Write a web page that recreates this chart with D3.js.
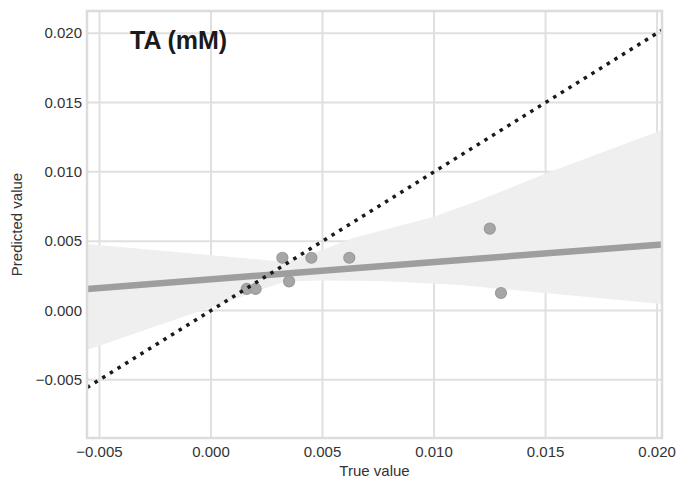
<!DOCTYPE html>
<html>
<head>
<meta charset="utf-8">
<script src="https://cdn.jsdelivr.net/npm/d3@7"></script>
<style>
  html, body { margin: 0; padding: 0; background: #fff; }
  svg { display: block; font-family: "Liberation Sans", Arial, sans-serif; }
</style>
</head>
<body>
<svg id="chart" width="680" height="484"></svg>
<script>
// Observed (true) vs predicted TA values
const trueValues      = [0.0016, 0.0020, 0.0032, 0.0035, 0.0045, 0.0062, 0.0125, 0.0130];
const predictedValues = [0.00155, 0.00155, 0.0038, 0.0021, 0.0038, 0.0038, 0.0059, 0.00126];

// 95% confidence band of the fit, sampled along x
const bandX     = [-0.00556, 0.00332, 0.00502, 0.00637, 0.00996, 0.01206, 0.01507, 0.02022];
const bandUpper = [0.00480, 0.00350, 0.00437, 0.00523, 0.00675, 0.00797, 0.00992, 0.01302];
const bandLowX  = [-0.00556, 0.00332, 0.00489, 0.00762, 0.01117, 0.02022];
const bandLower = [-0.00285, 0.00208, 0.00216, 0.00213, 0.00184, 0.00047];

const xTicks = [-0.005, 0.000, 0.005, 0.010, 0.015, 0.020];
const yTicks = [-0.005, 0.000, 0.005, 0.010, 0.015, 0.020];
const xDomain = [-0.00556, 0.02022];
const yDomain = [-0.0092, 0.0216];

const titleText = "TA (mM)";
const xLabel = "True value";
const yLabel = "Predicted value";

const svg = d3.select("#chart");
const m = { left: 87, right: 662, top: 11, bottom: 438 };

const x = d3.scaleLinear().domain(xDomain).range([m.left, m.right]);
const y = d3.scaleLinear().domain(yDomain).range([m.bottom, m.top]);
const fmt = v => d3.format(".3f")(v).replace("-", "\u2212");

svg.append("defs").append("clipPath").attr("id", "plot")
  .append("rect").attr("x", m.left).attr("y", m.top)
  .attr("width", m.right - m.left).attr("height", m.bottom - m.top);

// grid
const grid = svg.append("g").attr("stroke", "#e0e0e0").attr("stroke-width", 2);
grid.selectAll("line.v").data(xTicks).join("line").attr("class", "v")
  .attr("x1", d => x(d)).attr("x2", d => x(d)).attr("y1", m.top).attr("y2", m.bottom);
grid.selectAll("line.h").data(yTicks).join("line").attr("class", "h")
  .attr("y1", d => y(d)).attr("y2", d => y(d)).attr("x1", m.left).attr("x2", m.right);

const plot = svg.append("g").attr("clip-path", "url(#plot)");

// confidence band
const upperPts = bandX.map((v, i) => [x(v), y(bandUpper[i])]);
const lowerPts = bandLowX.map((v, i) => [x(v), y(bandLower[i])]).reverse();
plot.append("path")
  .attr("d", d3.line()(upperPts.concat(lowerPts)) + "Z")
  .attr("fill", "#efefef");

// least-squares fit
const mx = d3.mean(trueValues), my = d3.mean(predictedValues);
const sxy = d3.sum(trueValues, (v, i) => (v - mx) * (predictedValues[i] - my));
const sxx = d3.sum(trueValues, v => (v - mx) ** 2);
const slope = sxy / sxx, intercept = my - slope * mx;
plot.append("line")
  .attr("x1", x(xDomain[0])).attr("y1", y(intercept + slope * xDomain[0]))
  .attr("x2", x(xDomain[1])).attr("y2", y(intercept + slope * xDomain[1]))
  .attr("stroke", "#9e9e9e").attr("stroke-width", 6.5);

// data points
plot.selectAll("circle").data(trueValues).join("circle")
  .attr("cx", d => x(d)).attr("cy", (d, i) => y(predictedValues[i]))
  .attr("r", 5.5).attr("fill", "#a6a6a6").attr("stroke", "#9a9a9a").attr("stroke-width", 1.2);

// identity line
plot.append("line")
  .attr("x1", x(xDomain[0])).attr("y1", y(xDomain[0]))
  .attr("x2", x(xDomain[1])).attr("y2", y(xDomain[1]))
  .attr("stroke", "#1a1a1a").attr("stroke-width", 3.5)
  .attr("stroke-dasharray", "3.5 5.5");

// frame
svg.append("rect").attr("x", m.left).attr("y", m.top)
  .attr("width", m.right - m.left).attr("height", m.bottom - m.top)
  .attr("fill", "none").attr("stroke", "#dcdcdc").attr("stroke-width", 2.5);

// tick labels
svg.append("g").selectAll("text").data(xTicks).join("text")
  .attr("x", d => x(d)).attr("y", 457).attr("text-anchor", "middle")
  .attr("font-size", 15).attr("fill", "#333").text(fmt);
svg.append("g").selectAll("text").data(yTicks).join("text")
  .attr("x", 82).attr("y", d => y(d)).attr("dy", "0.35em").attr("text-anchor", "end")
  .attr("font-size", 15).attr("fill", "#333").text(fmt);

// axis labels
svg.append("text").attr("x", (m.left + m.right) / 2).attr("y", 476)
  .attr("text-anchor", "middle").attr("font-size", 15).attr("fill", "#333").text(xLabel);
svg.append("text").attr("transform", `translate(22,${(m.top + m.bottom) / 2}) rotate(-90)`)
  .attr("text-anchor", "middle").attr("font-size", 15).attr("fill", "#333").text(yLabel);

// title
svg.append("text").attr("x", 130).attr("y", 49)
  .attr("font-size", 25).attr("font-weight", "bold").attr("fill", "#1a1a1a").text(titleText);
</script>
</body>
</html>
